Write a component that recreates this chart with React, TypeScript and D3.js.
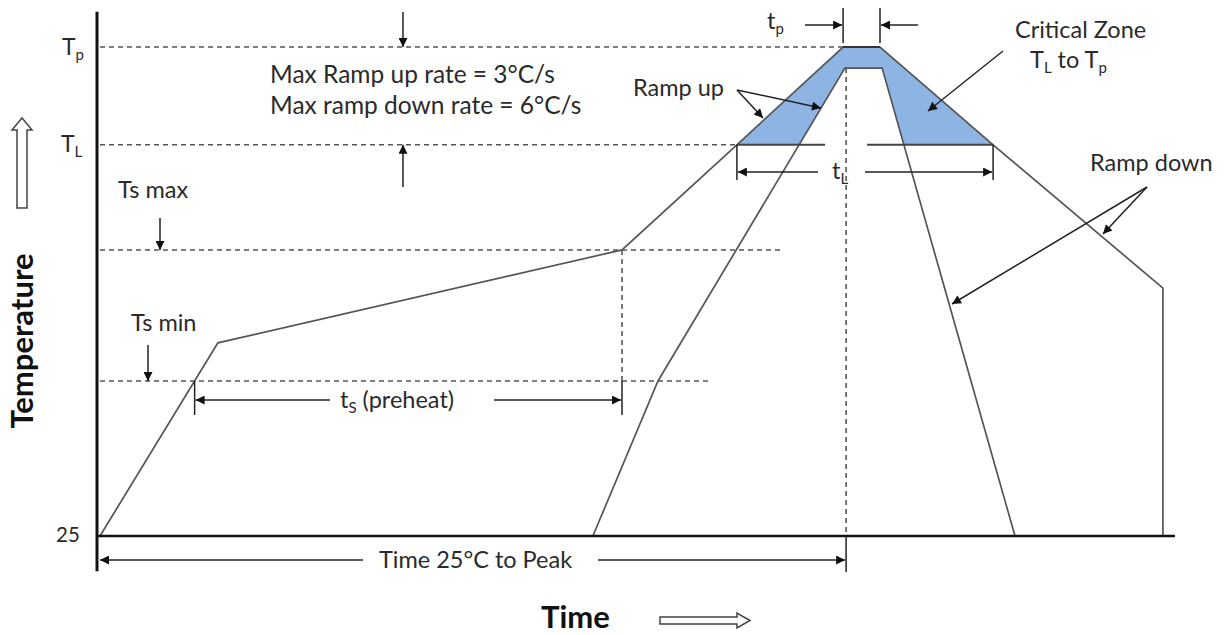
import React from "react";
import * as d3 from "d3";

const W = 1225;
const H = 635;

// Schematic time units (x) and temperature units (0 = 25°C, 100 = Tp)
const levelKeys = ["Tp", "TL", "TsMax", "TsMin", "Base"];
const levelValues = [100, 80, 58.5, 31.7, 0];
const levelDashEnd = [248.7, 213.3, 228.3, 204.3, 0];

const outerTime = [1, 40.3, 175, 213.3, 248.7, 261, 298.7, 355.3, 355.3];
const outerTemp = [0, 39.5, 58.5, 80, 100, 100, 80, 50.7, 0];
const innerTime = [165.3, 187, 249.3, 261.7, 306];
const innerTemp = [0, 31.7, 95.7, 95.7, 0];

const peakTime = 249.7;
const tlGap = [242.7, 256.7];
const axisTimeMax = 359.3;

const x = d3.scaleLinear().domain([0, 360]).range([97, 1177]);
const y = d3.scaleLinear().domain([0, 100]).range([536, 47]);

const lv = (k: string) => levelValues[levelKeys.indexOf(k)];

function cross(ts: number[], vs: number[], level: number, rising: boolean) {
  for (let i = 0; i < ts.length - 1; i++) {
    const a = vs[i], b = vs[i + 1];
    if (a === b) continue;
    if (rising ? a <= level && b >= level : a >= level && b <= level) {
      return ts[i] + ((level - a) / (b - a)) * (ts[i + 1] - ts[i]);
    }
  }
  return ts[0];
}

const line = d3
  .line<[number, number]>()
  .x((d) => x(d[0]))
  .y((d) => y(d[1]));

const FONT = "Lato, 'Open Sans', sans-serif";
const TXT = "#2a2a2a";
const FS = 23.5;
const SUB = 15;

export default function App() {
  const TL = lv("TL");
  const TP = lv("Tp");
  const SMAX = lv("TsMax");
  const SMIN = lv("TsMin");
  const outerPts = outerTime.map((t, i) => [t, outerTemp[i]] as [number, number]);
  const innerPts = innerTime.map((t, i) => [t, innerTemp[i]] as [number, number]);

  const innerL = cross(innerTime, innerTemp, TL, true);
  const innerR = cross(innerTime, innerTemp, TL, false);
  const outerL = cross(outerTime, outerTemp, TL, true);
  const outerR = cross(outerTime, outerTemp, TL, false);
  const preStart = cross(outerTime, outerTemp, SMIN, true);
  const preEnd = outerTime[2];

  const zone: [number, number][] = [
    [outerL, TL],
    [outerTime[4], outerTemp[4]],
    [outerTime[5], outerTemp[5]],
    [outerR, TL],
    [innerR, TL],
    [innerTime[3], innerTemp[3]],
    [innerTime[2], innerTemp[2]],
    [innerL, TL],
  ];

  const dash = { stroke: "#555", strokeWidth: 1.6, strokeDasharray: "5 4", fill: "none" };
  const dim = { stroke: "#222", strokeWidth: 1.5, fill: "none" };
  const curve = { stroke: "#555", strokeWidth: 1.7, fill: "none" };

  const arrow = (x1: number, y1: number, x2: number, y2: number, key: string) => (
    <line key={key} x1={x1} y1={y1} x2={x2} y2={y2} {...dim} markerEnd="url(#ah)" />
  );

  return (
    <svg width={W} height={H} style={{ position: "absolute", left: 0, top: 0, background: "#fff" }}>
      <defs>
        <marker id="ah" viewBox="0 0 10 10" refX="10" refY="5" markerWidth="12" markerHeight="9" markerUnits="userSpaceOnUse" orient="auto">
          <path d="M0,0 L10,5 L0,10 Z" fill="#111" />
        </marker>
      </defs>

      {/* blue critical zone */}
      <path d={line(zone) + "Z"} fill="#8DB4E2" stroke="none" />

      {/* dashed level lines */}
      {levelKeys.slice(0, 4).map((k, i) => (
        <line key={k} x1={x(1)} x2={x(levelDashEnd[i])} y1={y(levelValues[i])} y2={y(levelValues[i])} {...dash} />
      ))}
      {/* vertical dashed lines */}
      <line x1={x(preEnd)} x2={x(preEnd)} y1={y(SMAX)} y2={y(SMIN)} {...dash} />
      <line x1={x(peakTime)} x2={x(peakTime)} y1={y(innerTemp[2])} y2={y(0)} {...dash} />

      {/* profiles */}
      <path d={line(outerPts) ?? ""} {...curve} />
      <path d={line(innerPts) ?? ""} {...curve} />
      <line x1={x(outerTime[4])} x2={x(outerTime[5])} y1={y(TP)} y2={y(TP)} stroke="#333" strokeWidth={2} />

      {/* TL solid line with gap */}
      <line x1={x(outerL)} x2={x(tlGap[0])} y1={y(TL)} y2={y(TL)} stroke="#444" strokeWidth={2} />
      <line x1={x(tlGap[1])} x2={x(outerR)} y1={y(TL)} y2={y(TL)} stroke="#444" strokeWidth={2} />

      {/* axes */}
      <line x1={x(0)} x2={x(0)} y1={y(107.2)} y2={y(-7.2)} stroke="#111" strokeWidth={3} />
      <line x1={x(0)} x2={x(axisTimeMax)} y1={y(0)} y2={y(0)} stroke="#111" strokeWidth={2.6} />

      {/* level labels */}
      <text x={62} y={55} fontFamily={FONT} fontSize={23} fill={TXT}>
        T<tspan fontSize={SUB} dy={5}>p</tspan>
      </text>
      <text x={61} y={152} fontFamily={FONT} fontSize={23} fill={TXT}>
        T<tspan fontSize={SUB} dy={5}>L</tspan>
      </text>
      <text x={56} y={542} fontFamily={FONT} fontSize={20.5} fill={TXT}>25</text>

      {/* max ramp text + arrows */}
      <text x={270} y={83} fontFamily={FONT} fontSize={FS + 1} fill={TXT}>Max Ramp up rate = 3°C/s</text>
      <text x={270} y={114} fontFamily={FONT} fontSize={FS + 1} fill={TXT}>Max ramp down rate = 6°C/s</text>
      {arrow(403, 12, 403, y(TP), "a1")}
      {arrow(403, 187, 403, y(TL), "a2")}

      {/* Ts max / Ts min */}
      <text x={118} y={198} fontFamily={FONT} fontSize={FS} fill={TXT}>Ts max</text>
      {arrow(160, 218, 160, y(SMAX), "a3")}
      <text x={131} y={331} fontFamily={FONT} fontSize={FS} fill={TXT}>Ts min</text>
      {arrow(148, 345, 148, y(SMIN), "a4")}

      {/* preheat dimension */}
      <line x1={x(preStart)} x2={x(preStart)} y1={y(SMIN)} y2={415} {...dim} />
      <line x1={x(preEnd)} x2={x(preEnd)} y1={y(SMIN)} y2={415} {...dim} />
      {arrow(330, 400, x(preStart) + 1, 400, "a5")}
      {arrow(494, 400, x(preEnd) - 1, 400, "a6")}
      <text x={340} y={408} fontFamily={FONT} fontSize={FS} fill={TXT}>
        t<tspan fontSize={SUB} dy={5}>S</tspan>
        <tspan dy={-5}> (preheat)</tspan>
      </text>

      {/* Time 25°C to Peak */}
      <line x1={x(peakTime)} x2={x(peakTime)} y1={y(0)} y2={572} {...dim} />
      {arrow(363, 560, x(0) + 3, 560, "a7")}
      {arrow(598, 560, x(peakTime) - 1, 560, "a8")}
      <text x={379} y={568} fontFamily={FONT} fontSize={FS} fill={TXT}>Time 25°C to Peak</text>

      {/* tp dimension */}
      <line x1={x(outerTime[4])} x2={x(outerTime[4])} y1={8} y2={43} {...dim} />
      <line x1={x(outerTime[5])} x2={x(outerTime[5])} y1={8} y2={43} {...dim} />
      {arrow(805, 25, x(outerTime[4]) - 1, 25, "a9")}
      {arrow(918, 25, x(outerTime[5]) + 1, 25, "a10")}
      <text x={767} y={29} fontFamily={FONT} fontSize={FS} fill={TXT}>
        t<tspan fontSize={SUB} dy={5}>p</tspan>
      </text>

      {/* tL dimension */}
      <line x1={x(outerL)} x2={x(outerL)} y1={y(TL)} y2={180} {...dim} />
      <line x1={x(outerR)} x2={x(outerR)} y1={y(TL)} y2={180} {...dim} />
      {arrow(818, 172, x(outerL) + 1, 172, "a11")}
      {arrow(865, 172, x(outerR) - 1, 172, "a12")}
      <text x={832} y={179} fontFamily={FONT} fontSize={FS} fill={TXT}>
        t<tspan fontSize={SUB} dy={5}>L</tspan>
      </text>

      {/* Ramp up */}
      <text x={633} y={96} fontFamily={FONT} fontSize={FS} fill={TXT}>Ramp up</text>
      {arrow(737, 90, 763, 118, "a13")}
      {arrow(737, 90, 821, 108, "a14")}

      {/* Critical zone */}
      <text x={1015} y={38} fontFamily={FONT} fontSize={FS} fill={TXT}>Critical Zone</text>
      <text x={1030} y={68} fontFamily={FONT} fontSize={FS} fill={TXT}>
        T<tspan fontSize={SUB} dy={5}>L</tspan>
        <tspan dy={-5}> to T</tspan>
        <tspan fontSize={SUB} dy={5}>p</tspan>
      </text>
      {arrow(1003, 51, 928, 111, "a15")}

      {/* Ramp down */}
      <text x={1090} y={171} fontFamily={FONT} fontSize={FS} fill={TXT}>Ramp down</text>
      {arrow(1147, 187, 1103, 234, "a16")}
      {arrow(1147, 187, 952, 304, "a17")}

      {/* axis titles */}
      <text
        transform="translate(33,341) rotate(-90)"
        textAnchor="middle"
        fontFamily={FONT}
        fontWeight="bold"
        fontSize={31}
        fill="#111"
      >
        Temperature
      </text>
      <polygon points="17,208 17,130 12,130 22,118 32,130 27,130 27,208" fill="#fff" stroke="#444" strokeWidth={1.5} />
      <text x={541} y={628} fontFamily={FONT} fontWeight="bold" fontSize={31} fill="#111">Time</text>
      <polygon points="660,617 737,617 737,613 750,620.5 737,628 737,624 660,624" fill="#fff" stroke="#444" strokeWidth={1.5} />
    </svg>
  );
}
